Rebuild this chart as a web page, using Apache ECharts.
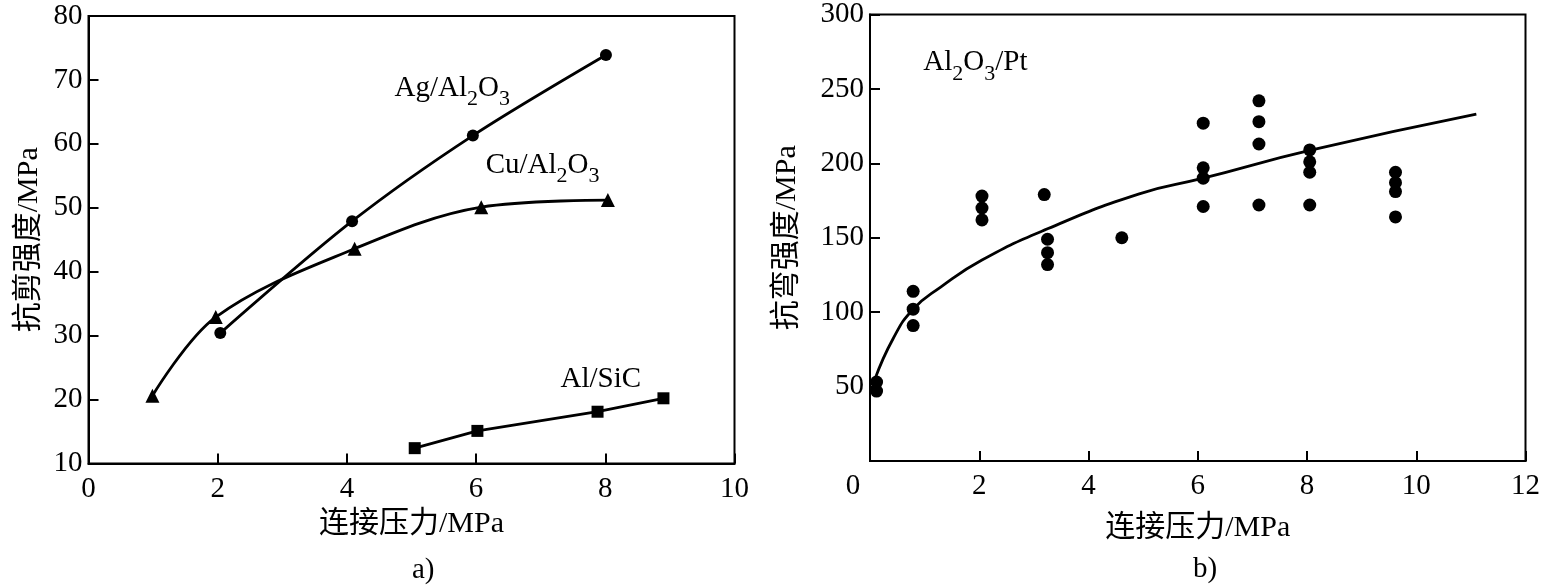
<!DOCTYPE html>
<html lang="zh">
	<head>
		<meta charset="UTF-8">
		<title>连接压力与接头强度</title>
		<script src="https://cdn.jsdelivr.net/npm/echarts@6/dist/echarts.min.js" type="text/javascript" charset="utf-8"></script>
		<style>
			html, body { margin: 0; padding: 0; background: #fff; }
			#myChart { width: 1543px; height: 588px; }
		</style>
	</head>
	<body>
		<div id="myChart"></div>
		<script type="text/javascript">
			// a) 抗剪强度 - 连接压力
			var agX = [2.04, 4.08, 5.95, 8.01];
			var agY = [30.4, 47.9, 61.3, 73.9];
			var cuX = [0.99, 1.97, 4.12, 6.08, 8.04];
			var cuY = [20.6, 32.9, 43.6, 50.1, 51.2];
			var alX = [5.05, 6.02, 7.88, 8.9];
			var alY = [12.4, 15.1, 18.1, 20.2];
			// 图中文字标注 a)
			var tagAX = [5.63, 7.03, 7.93];
			var tagAY = [68.7, 56.7, 23.1];
			var tagAText = ['Ag/Al{s|2}O{s|3}', 'Cu/Al{s|2}O{s|3}', 'Al/SiC'];

			// b) 抗弯强度 - 连接压力 (散点)
			var ptX = [0.12, 0.12, 0.79, 0.79, 0.79, 2.05, 2.05, 2.05, 3.19, 3.25, 3.25, 3.25, 4.61,
				6.1, 6.1, 6.1, 6.1, 7.12, 7.12, 7.12, 7.12, 8.05, 8.05, 8.05, 8.05, 9.62, 9.62, 9.62, 9.62];
			var ptY = [53, 47, 114, 102, 91, 178, 170, 162, 179, 149, 140, 132, 150,
				227, 197, 190, 171, 242, 228, 213, 172, 209, 201, 194, 172, 194, 187, 181, 164];
			// 拟合曲线
			var fitX = [0.09, 0.42, 0.79, 1.3, 2.05, 3.25, 4.93, 6.1, 8.07, 11.1];
			var fitY = [55, 82, 102, 117, 135, 156, 179.5, 190, 208.8, 233];
			var tagBX = [1.93];
			var tagBY = [267.5];
			var tagBText = ['Al{s|2}O{s|3}/Pt'];

			// 刻度
			var xTicksA = [0, 10, 2];   // min, max, interval
			var yTicksA = [10, 80, 10];
			var xTicksB = [0, 12, 2];
			var yTicksB = [0, 300, 50];

			var SERIF = '"Liberation Serif", "Noto Sans CJK SC", serif';

			function zip(xs, ys) {
				var out = [];
				for (var i = 0; i < xs.length; i++) out.push([xs[i], ys[i]]);
				return out;
			}
			function zipText(xs, ys, ts) {
				var out = [];
				for (var i = 0; i < xs.length; i++) out.push({ value: [xs[i], ys[i]], tag: ts[i] });
				return out;
			}

			var axisCommon = {
				type: 'value',
				axisLine: { show: true, lineStyle: { color: '#000', width: 2 } },
				axisTick: { show: true, inside: true, length: 10, lineStyle: { color: '#000', width: 2 } },
				splitLine: { show: false },
				axisLabel: { color: '#000', fontFamily: SERIF, fontSize: 29 },
				nameTextStyle: { color: '#000', fontFamily: SERIF, fontSize: 30 }
			};
			function axis(extra) {
				return Object.assign({}, JSON.parse(JSON.stringify(axisCommon)), extra);
			}

			var lineStyle = { color: '#000', width: 2.8 };
			var tagLabel = {
				show: true,
				position: 'inside',
				color: '#000',
				fontFamily: SERIF,
				fontSize: 29,
				lineHeight: 44,
				formatter: function (p) { return p.data.tag; },
				rich: {
					s: { color: '#000', fontFamily: SERIF, fontSize: 22, lineHeight: 20, verticalAlign: 'bottom' }
				}
			};

			var myChart = echarts.init(document.getElementById('myChart'), null, { renderer: 'canvas' });
			var option = {
				backgroundColor: '#fff',
				animation: false,
				grid: [
					{ left: 88.5, top: 16, width: 646, height: 447.5, show: true, borderColor: '#000', borderWidth: 2 },
					{ left: 870, top: 8, width: 659, height: 453, show: true, borderColor: '#000', borderWidth: 2 }
				],
				xAxis: [
					axis({
						gridIndex: 0, min: xTicksA[0], max: xTicksA[1], interval: xTicksA[2],
						name: '连接压力/MPa', nameLocation: 'middle', nameGap: 46,
						axisLabel: { color: '#000', fontFamily: SERIF, fontSize: 29, margin: 11 }
					}),
					axis({
						gridIndex: 1, min: xTicksB[0], max: xTicksB[1], interval: xTicksB[2],
						name: '连接压力/MPa', nameLocation: 'middle', nameGap: 52,
						axisLabel: {
							color: '#000', fontFamily: SERIF, fontSize: 29, margin: 11,
							formatter: function (v) { return v === 0 ? '{z|0}' : String(v); },
							rich: { z: { color: '#000', fontFamily: SERIF, fontSize: 29, padding: [0, 34, 0, 0] } }
						}
					})
				],
				yAxis: [
					axis({
						gridIndex: 0, min: yTicksA[0], max: yTicksA[1], interval: yTicksA[2],
						name: '抗剪强度/MPa', nameLocation: 'middle', nameGap: 44,
						axisLabel: { color: '#000', fontFamily: SERIF, fontSize: 29, margin: 6 }
					}),
					axis({
						gridIndex: 1, min: yTicksB[0], max: yTicksB[1], interval: yTicksB[2],
						name: '抗弯强度/MPa', nameLocation: 'middle', nameGap: 68,
						axisLabel: {
							color: '#000', fontFamily: SERIF, fontSize: 29, margin: 6,
							formatter: function (v) { return v === 0 ? '' : String(v); }
						}
					})
				],
				series: [
					{
						name: 'Ag/Al2O3', type: 'line', xAxisIndex: 0, yAxisIndex: 0,
						data: zip(agX, agY), smooth: 0.3, symbol: 'circle', symbolSize: 12,
						lineStyle: lineStyle, itemStyle: { color: '#000' }
					},
					{
						name: 'Cu/Al2O3', type: 'line', xAxisIndex: 0, yAxisIndex: 0,
						data: zip(cuX, cuY), smooth: 0.35, symbol: 'triangle', symbolSize: 14,
						lineStyle: lineStyle, itemStyle: { color: '#000' }
					},
					{
						name: 'Al/SiC', type: 'line', xAxisIndex: 0, yAxisIndex: 0,
						data: zip(alX, alY), smooth: false, symbol: 'rect', symbolSize: 12,
						lineStyle: lineStyle, itemStyle: { color: '#000' }
					},
					{
						name: 'tagA', type: 'scatter', xAxisIndex: 0, yAxisIndex: 0,
						data: zipText(tagAX, tagAY, tagAText), symbolSize: 0, label: tagLabel, silent: true,
						itemStyle: { color: '#000', opacity: 1 }
					},
					{
						name: 'Al2O3/Pt', type: 'scatter', xAxisIndex: 1, yAxisIndex: 1,
						data: zip(ptX, ptY), symbol: 'circle', symbolSize: 13,
						itemStyle: { color: '#000', opacity: 1 }
					},
					{
						name: '拟合', type: 'line', xAxisIndex: 1, yAxisIndex: 1,
						data: zip(fitX, fitY), smooth: 0.5, showSymbol: false,
						lineStyle: lineStyle
					},
					{
						name: 'tagB', type: 'scatter', xAxisIndex: 1, yAxisIndex: 1,
						data: zipText(tagBX, tagBY, tagBText), symbolSize: 0, label: tagLabel, silent: true,
						itemStyle: { color: '#000', opacity: 1 }
					}
				],
				graphic: [
					{ type: 'text', left: 412, top: 556, style: { text: 'a)', font: '29px ' + SERIF, fill: '#000' } },
					{ type: 'text', left: 1193, top: 555, style: { text: 'b)', font: '29px ' + SERIF, fill: '#000' } }
				]
			};
			myChart.setOption(option);
		</script>
	</body>
</html>
